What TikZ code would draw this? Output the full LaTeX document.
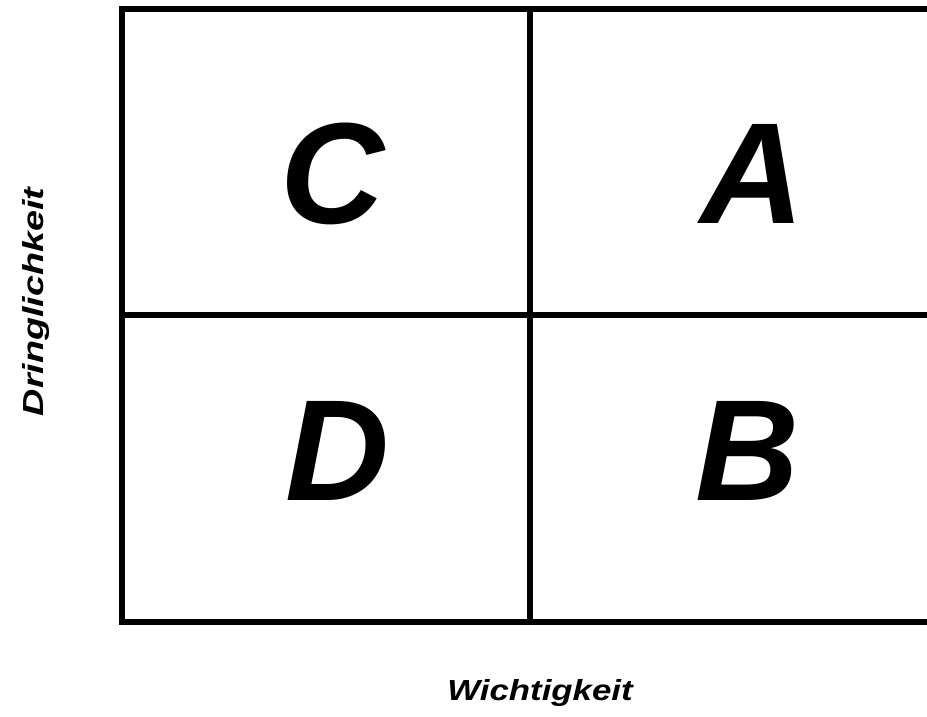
\documentclass[tikz,border=0pt]{standalone}
\usepackage{fontspec}
\setmainfont{Liberation Sans}
\usetikzlibrary{positioning}

\begin{document}
\begin{tikzpicture}[
  x=1pt, y=-1pt,
  gridline/.style={draw=black, line width=6pt},
  quadlabel/.style={font=\fontsize{144}{150}\selectfont\bfseries\itshape,
    inner sep=0pt, anchor=base},
  axislabel/.style={font=\fontsize{29}{34}\selectfont\bfseries\itshape,
    inner sep=0pt},
]
  \useasboundingbox (0,0) rectangle (927,717);
  % frame and dividers
  \coordinate (tl) at (122,9);
  \coordinate (bl) at (122,622);
  \coordinate (tr) at (930,9);
  \coordinate (br) at (930,622);
  \coordinate (midtop) at (530,9);
  \coordinate (midbot) at (530,622);
  \coordinate (midleft) at (122,315);
  \coordinate (midright) at (930,315);
  \draw[gridline] (tr) -- (tl) -- (bl) -- (br);
  \draw[gridline] (midtop) -- (midbot);
  \draw[gridline] (midleft) -- (midright);
  % quadrants
  \node[quadlabel] (qc) at (332,223) {C};
  \node[quadlabel] (qa) at (752,223) {A};
  \node[quadlabel] (qd) at (337,500) {D};
  \node[quadlabel] (qb) at (747,500) {B};
  % axes
  \node[axislabel, rotate=90, xscale=1.3] (urgency) at (36,302) {Dringlichkeit};
  \node[axislabel, xscale=1.2] (importance) at (540,693) {Wichtigkeit};
\end{tikzpicture}
\end{document}
